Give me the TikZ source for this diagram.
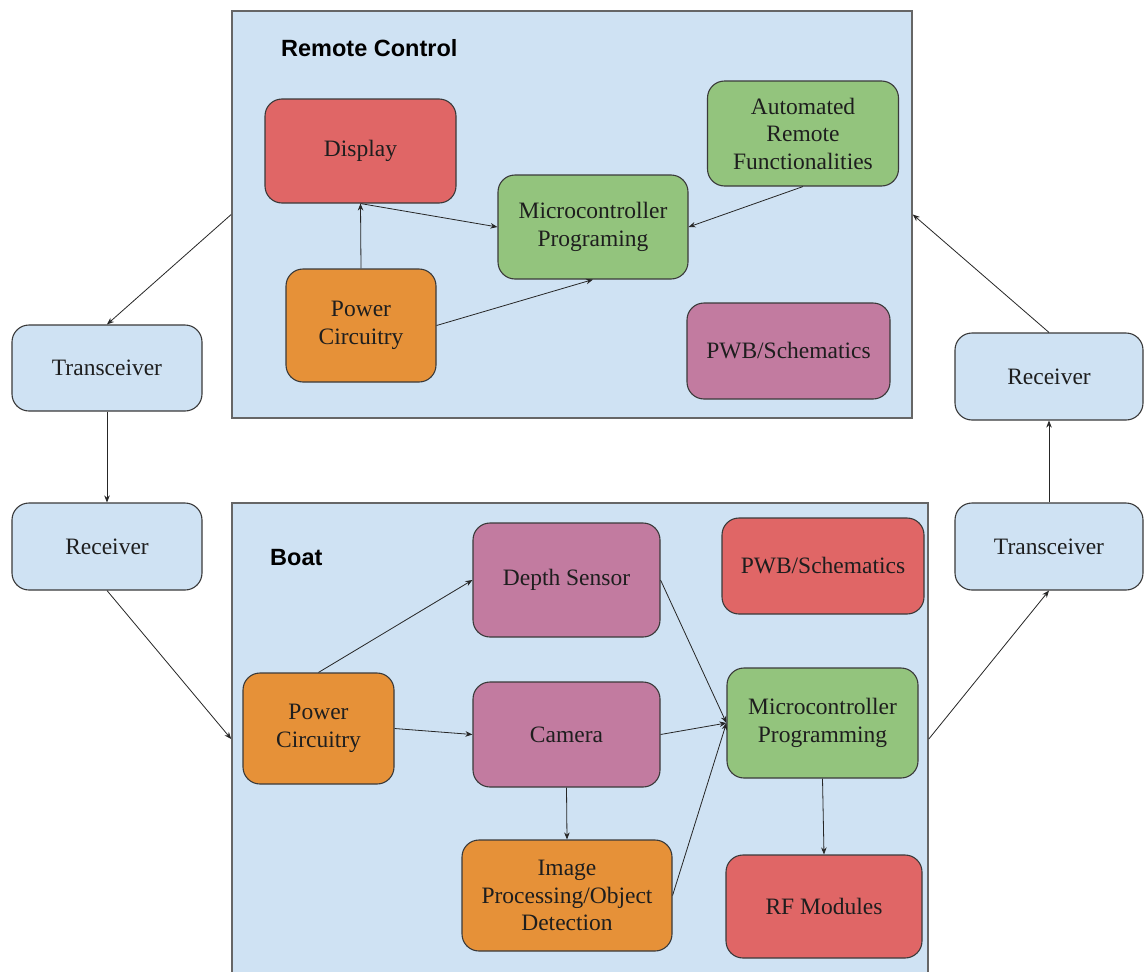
\documentclass[tikz,border=0pt]{standalone}
\usepackage{fontspec}
\setmainfont{Liberation Serif}
\newfontfamily\lblfont{Liberation Sans}
\usetikzlibrary{arrows.meta}
\definecolor{cblue}{HTML}{CFE2F3}
\definecolor{cred}{HTML}{E06666}
\definecolor{cgreen}{HTML}{93C47D}
\definecolor{corange}{HTML}{E69138}
\definecolor{cpurple}{HTML}{C27BA0}
\definecolor{bordercol}{HTML}{3A3A3A}
\definecolor{contborder}{HTML}{666666}
\definecolor{textcol}{HTML}{1E1E1E}
\definecolor{arrcol}{HTML}{262626}
\newcommand\bxfont{\fontsize{23.5}{27.5}\selectfont}
\tikzset{
  box/.style={draw=bordercol, line width=1.1pt, rounded corners=17pt, inner sep=0pt,
    align=center, font=\bxfont, text=textcol},
  container/.style={draw=contborder, line width=1.6pt, fill=cblue, inner sep=0pt},
  grouplabel/.style={anchor=west, font=\lblfont\bfseries\fontsize{23.5}{28}\selectfont, text=black, inner sep=0pt},
  arr/.style={-{Stealth[length=7pt,width=5.5pt]}, line width=0.8pt, draw=arrcol}
}
\begin{document}
\begin{tikzpicture}[x=1pt,y=-1pt]
\clip (0,0) rectangle (1144,972);
\fill[white] (0,0) rectangle (1144,972);

% containers
\node[container, minimum width=680pt, minimum height=407pt] (rc) at (572,214.5) {};
\node[container, minimum width=696pt, minimum height=472pt] (boat) at (580,739) {};
\node[grouplabel] (rclbl) at (281,48) {Remote Control};
\node[grouplabel] (boatlbl) at (270,558) {Boat};

% remote control nodes
\node[box, fill=cred, minimum width=191pt, minimum height=104pt] (disp) at (360.5,151) {Display};
\node[box, fill=cgreen, minimum width=190pt, minimum height=104pt] (mc1) at (593,227) {Microcontroller\\Programing};
\node[box, fill=cgreen, minimum width=191pt, minimum height=105pt] (auto) at (803,133.5) {Automated\\Remote\\Functionalities};
\node[box, fill=corange, minimum width=150pt, minimum height=113pt] (pc1) at (361,325.5) {Power\\Circuitry};
\node[box, fill=cpurple, minimum width=203pt, minimum height=96pt] (pwb1) at (788.5,351) {PWB/Schematics};

% outside nodes
\node[box, fill=cblue, minimum width=190pt, minimum height=86pt] (tl) at (107,368) {Transceiver};
\node[box, fill=cblue, minimum width=190pt, minimum height=87pt] (rl) at (107,546.5) {Receiver};
\node[box, fill=cblue, minimum width=188pt, minimum height=87pt] (rr) at (1049,376.5) {Receiver};
\node[box, fill=cblue, minimum width=188pt, minimum height=87pt] (tr) at (1049,546.5) {Transceiver};

% boat nodes
\node[box, fill=cpurple, minimum width=187pt, minimum height=114pt] (ds) at (566.5,580) {Depth Sensor};
\node[box, fill=cred, minimum width=202pt, minimum height=96pt] (pwb2) at (823,566) {PWB/Schematics};
\node[box, fill=corange, minimum width=151pt, minimum height=111pt] (pc2) at (318.5,728.5) {Power\\Circuitry};
\node[box, fill=cpurple, minimum width=187pt, minimum height=105pt] (cam) at (566.5,734.5) {Camera};
\node[box, fill=corange, minimum width=210pt, minimum height=111pt] (ip) at (567,895.5) {Image\\Processing/Object\\Detection};
\node[box, fill=cgreen, minimum width=191pt, minimum height=110pt] (mc2) at (822.5,723) {Microcontroller\\Programming};
\node[box, fill=cred, minimum width=196pt, minimum height=103pt] (rf) at (824,906.5) {RF Modules};

% remote control arrows
\draw[arr] (disp.south) -- (mc1.west);
\draw[arr] (pc1.north) -- (disp.south);
\draw[arr] (pc1.east) -- (mc1.south);
\draw[arr] (auto.south) -- (mc1.east);

% link arrows
\draw[arr] (rc.west) -- (tl.north);
\draw[arr] (tl.south) -- (rl.north);
\draw[arr] (rl.south) -- (boat.west);
\draw[arr] (boat.east) -- (tr.south);
\draw[arr] (tr.north) -- (rr.south);
\draw[arr] (rr.north) -- (rc.east);

% boat arrows
\draw[arr] (pc2.north) -- (ds.west);
\draw[arr] (pc2.east) -- (cam.west);
\draw[arr] (cam.south) -- (ip.north);
\draw[arr] (ds.east) -- (mc2.west);
\draw[arr] (cam.east) -- (mc2.west);
\draw[arr] (ip.east) -- (mc2.west);
\draw[arr] (mc2.south) -- (rf.north);
\end{tikzpicture}
\end{document}
